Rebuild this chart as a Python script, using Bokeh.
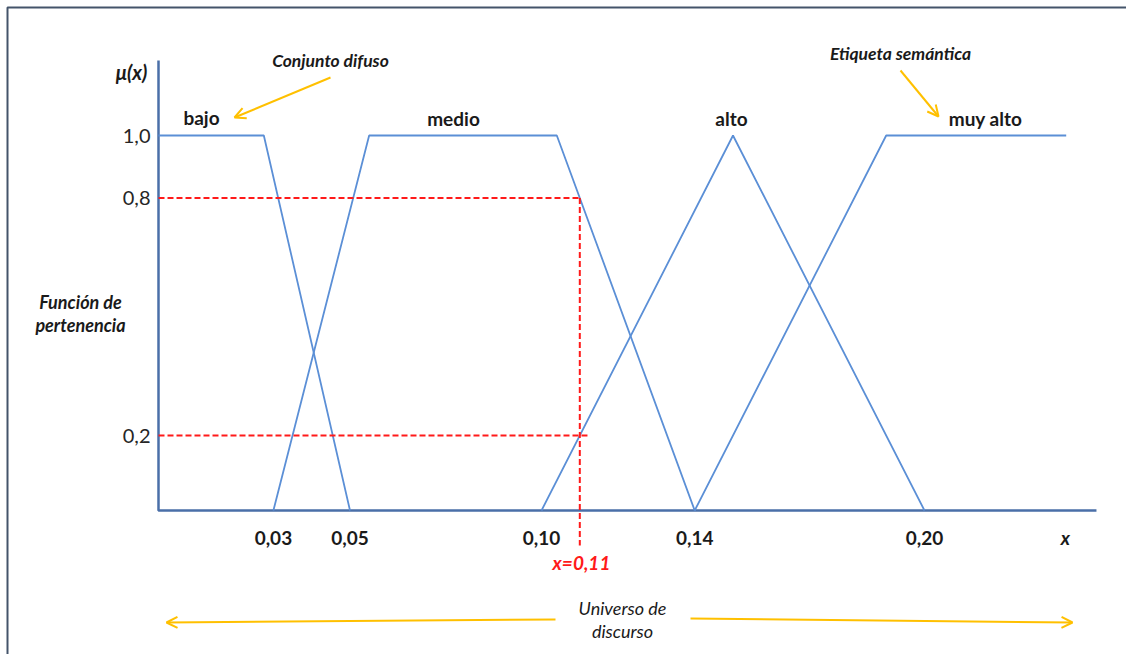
import numpy as np
from bokeh.plotting import figure
from bokeh.models import Arrow, OpenHead, Range1d
from bokeh.core.properties import value
from bokeh.embed import file_html
from bokeh.resources import INLINE

# ---- data ----
set_names = ["bajo", "medio", "alto", "muy alto"]
bajo_x = [0.0, 0.0275, 0.05]
bajo_y = [1.0, 1.0, 0.0]
medio_x = [0.03, 0.055, 0.104, 0.14]
medio_y = [0.0, 1.0, 1.0, 0.0]
alto_x = [0.10, 0.15, 0.20]
alto_y = [0.0, 1.0, 0.0]
muy_alto_x = [0.14, 0.19, 0.237]
muy_alto_y = [0.0, 1.0, 1.0]
x_ticks = [0.03, 0.05, 0.10, 0.14, 0.20]
x_cut = 0.11
x_max = 0.2449
y_max = 1.2

mu_medio = float(np.interp(x_cut, medio_x, medio_y))
mu_alto = float(np.interp(x_cut, alto_x, alto_y))
y_ticks = [mu_alto, mu_medio, 1.0]

FONT = "Lato"
LINE = "#5B8FD6"
AXIS = "#4A6FA8"
ORANGE = "#FFC000"
RED = "#FF1A1A"
FRAME = "#44546A"

W, H = 1126, 654
X0, Y0 = 158, 510          # pixel position of the origin
KX, KY = 3830.0, 375.0     # pixels per data unit


def px(xp):
    return (xp - X0) / KX


def py(yp):
    return (Y0 - yp) / KY


p = figure(width=W, height=H, x_range=Range1d(px(0), px(W)), y_range=Range1d(py(H), py(0)),
           output_backend="svg", toolbar_location=None, min_border=0,
           x_axis_type=None, y_axis_type=None)
p.outline_line_color = None
p.grid.visible = False

# outer frame (left and top edges)
p.line([px(7), px(7), px(W)], [py(H), py(7), py(7)], line_color=FRAME, line_width=2)

# axes
p.line([0, 0, x_max], [y_max, 0, 0], line_color=AXIS, line_width=2.5)
p.text(x=x_ticks, y=[py(537)] * len(x_ticks),
       text=[f"{v:.2f}".replace(".", ",") for v in x_ticks],
       text_align="center", text_baseline="middle", text_font=value(FONT),
       text_font_size="19px", text_font_style="bold", text_color="#1a1a1a")
p.text(x=[px(150)] * len(y_ticks), y=y_ticks,
       text=[f"{v:.1f}".replace(".", ",") for v in y_ticks],
       text_align="right", text_baseline="middle", text_font=value(FONT),
       text_font_size="20px", text_color="#262626")

# membership functions
for xs, ys in [(bajo_x, bajo_y), (medio_x, medio_y), (alto_x, alto_y), (muy_alto_x, muy_alto_y)]:
    p.line(xs, ys, line_color=LINE, line_width=1.8)

# red cut lines
p.line([0, x_cut], [mu_medio, mu_medio], line_color=RED, line_width=2, line_dash="6 3")
p.line([0, x_cut + 0.002], [mu_alto, mu_alto], line_color=RED, line_width=2, line_dash="6 3")
p.line([x_cut, x_cut], [mu_medio, py(545)], line_color=RED, line_width=2, line_dash="6 3")


def lab(text, xp, yp, size, style="bold", color="#1a1a1a"):
    p.text(x=[px(xp)], y=[py(yp)], text=[text], text_align="center",
           text_baseline="middle", text_font=value(FONT), text_font_size=size,
           text_font_style=style, text_color=color)


# set names
name_pos = [(201, 117), (453, 118), (731, 118), (985, 118)]
for name, (xp, yp) in zip(set_names, name_pos):
    lab(name, xp, yp, "19px")

lab("μ(x)", 131, 71, "20px", "bold italic")
lab("Conjunto difuso", 330, 60, "17.5px", "bold italic")
lab("Etiqueta semántica", 900, 53, "17.5px", "bold italic")
lab("Función de", 80, 301, "18px", "bold italic")
lab("pertenencia", 80, 324, "18px", "bold italic")
lab("x", 1065, 537, "19px", "bold italic")
lab("x=0,11", 581, 562, "19px", "bold italic", RED)
lab("Universo de", 622, 607, "18px", "italic")
lab("discurso", 622, 630, "18px", "italic")


def arrow(x0, y0, x1, y1):
    p.add_layout(Arrow(x_start=px(x0), y_start=py(y0), x_end=px(x1), y_end=py(y1),
                       end=OpenHead(size=11, line_color=ORANGE, line_width=2),
                       line_color=ORANGE, line_width=2))


arrow(330, 77, 234, 117)
arrow(900, 70, 938, 116)
arrow(555, 619, 166, 622)
arrow(690, 618, 1072, 622)

open("out.html", "w").write(file_html(p, INLINE))
